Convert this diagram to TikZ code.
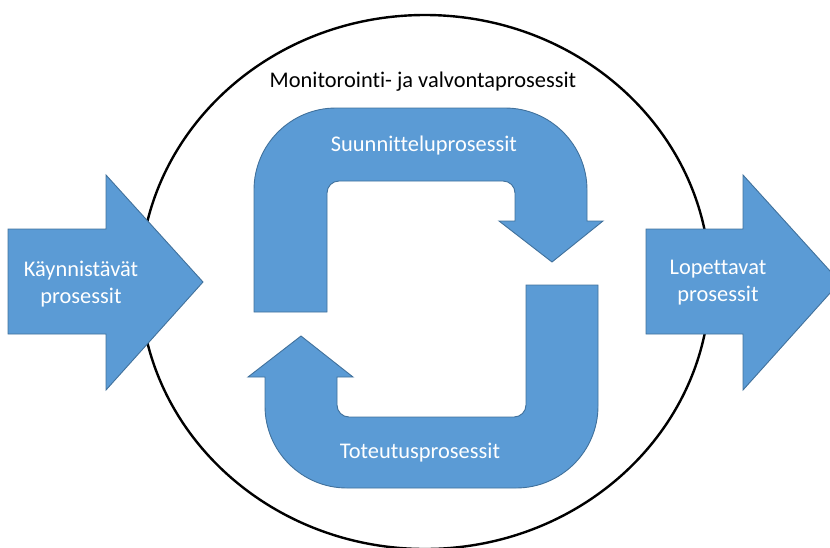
\documentclass[tikz,border=0pt]{standalone}
\usepackage{fontspec}
\setmainfont[RawFeature={-liga}]{Carlito}
\definecolor{blfill}{HTML}{5B9BD5}
\definecolor{blline}{HTML}{41719C}
\begin{document}
\begin{tikzpicture}[x=1pt,y=-1pt,
  shapebox/.style={fill=blfill,draw=blline,line width=0.9pt,line join=miter},
  wlabel/.style={text=white,font=\fontsize{22.4}{27}\selectfont,align=center,inner sep=0pt},
  blabel/.style={text=black,font=\fontsize{22.4}{27}\selectfont,inner sep=0pt}]
\useasboundingbox (0,0) rectangle (830,547);
\clip (0,0) rectangle (830,547);
% monitoring ellipse
\draw[line width=2.4pt] (425,282) ellipse [x radius=285, y radius=267];
% top U-turn arrow
\draw[shapebox] (254,312) -- (254,190) arc[start angle=180,end angle=270,radius=82]
  -- (505,108) arc[start angle=270,end angle=360,radius=82]
  -- (587,221) -- (603,221) -- (552,262) -- (499,221) -- (515,221)
  -- (515,193) arc[start angle=0,end angle=-90,radius=12]
  -- (339,181) arc[start angle=270,end angle=180,radius=12]
  -- (327,312) -- cycle;
% bottom U-turn arrow
\draw[shapebox] (526,285) -- (598,285) -- (598,406) arc[start angle=0,end angle=90,radius=82]
  -- (347,488) arc[start angle=90,end angle=180,radius=82]
  -- (265,377) -- (248,377) -- (301,336) -- (353,377) -- (337,377)
  -- (337,405) arc[start angle=180,end angle=90,radius=12]
  -- (514,417) arc[start angle=90,end angle=0,radius=12]
  -- cycle;
% left block arrow
\draw[shapebox] (8,229) -- (106,229) -- (106,175) -- (203,282) -- (106,390) -- (106,334) -- (8,334) -- cycle;
% right block arrow
\draw[shapebox] (646,229) -- (743,229) -- (743,175) -- (840,282) -- (743,390) -- (743,334) -- (646,334) -- cycle;
% labels
\node[blabel] (mon) at (423,82) {Monitorointi- ja valvontaprosessit};
\node[wlabel] (suun) at (424,146) {Suunnitteluprosessit};
\node[wlabel] (tot) at (420,453) {Toteutusprosessit};
\node[wlabel] (kay) at (81,284) {Käynnistävät\\prosessit};
\node[wlabel] (lop) at (718,283) {Lopettavat\\prosessit};
\end{tikzpicture}
\end{document}
